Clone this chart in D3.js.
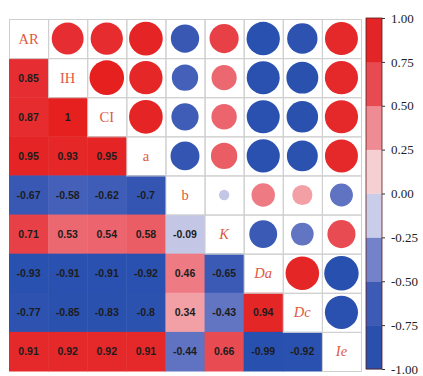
<!DOCTYPE html>
<html>
<head>
<meta charset="utf-8">
<script src="https://cdn.jsdelivr.net/npm/d3@7"></script>
<style>
  html, body { margin: 0; padding: 0; background: #fff; }
  svg { display: block; }
</style>
</head>
<body>
<svg id="chart" width="423" height="376"></svg>
<script>
// ---- Data ----
const variables = ["AR", "IH", "CI", "a", "b", "K", "Da", "Dc", "Ie"];
const italicVars = ["K", "Da", "Dc", "Ie"];
// lower-triangle correlations: row i holds r(variables[i], variables[j]) for j < i
const corrRows = [
  [],
  [0.85],
  [0.87, 1],
  [0.95, 0.93, 0.95],
  [-0.67, -0.58, -0.62, -0.7],
  [0.71, 0.53, 0.54, 0.58, -0.09],
  [-0.93, -0.91, -0.91, -0.92, 0.46, -0.65],
  [-0.77, -0.85, -0.83, -0.8, 0.34, -0.43, 0.94],
  [0.91, 0.92, 0.92, 0.91, -0.44, 0.66, -0.99, -0.92]
];
const tickValues = [1.00, 0.75, 0.50, 0.25, 0.00, -0.25, -0.50, -0.75, -1.00];
const colorStops = [-1, -0.75, -0.5, -0.25, 0, 0.25, 0.5, 0.75, 1];
const stopColors = ["#2850ae", "#2d52b0", "#4f66bc", "#929cd5", "#e0ddee", "#f5bcc1", "#ed6e77", "#e6383e", "#e5201f"];
const bandColors = ["#2a50ae", "#3d5ab4", "#7483c9", "#c9cde9", "#f6cfd2", "#ef8b93", "#e84a51", "#e42528"]; // from -1 upward

// ---- Setup ----
const svg = d3.select("#chart");
const x = d3.scaleBand().domain(variables).range([9, 361]);
const y = d3.scaleBand().domain(variables).range([19, 371]);
const color = d3.scaleLinear().domain(colorStops).range(stopColors).clamp(true);
const rScale = d3.scaleSqrt().domain([0, 1]).range([0, 17.3]);

const corr = (a, b) => {
  const i = variables.indexOf(a), j = variables.indexOf(b);
  if (i === j) return 1;
  return i > j ? corrRows[i][j] : corrRows[j][i];
};

const cells = [];
variables.forEach((rv, i) => variables.forEach((cv, j) => {
  cells.push({ row: rv, col: cv, i, j, v: corr(rv, cv) });
}));

const lower = cells.filter(d => d.i > d.j);
const upper = cells.filter(d => d.i < d.j);
const diag = cells.filter(d => d.i === d.j);

// lower triangle filled squares
svg.append("g").selectAll("rect").data(lower).join("rect")
  .attr("x", d => x(d.col)).attr("y", d => y(d.row))
  .attr("width", x.bandwidth() + 0.5).attr("height", y.bandwidth() + 0.5)
  .attr("fill", d => color(d.v));

svg.append("g").selectAll("text").data(lower).join("text")
  .attr("x", d => x(d.col) + x.bandwidth() / 2)
  .attr("y", d => y(d.row) + y.bandwidth() / 2)
  .attr("text-anchor", "middle").attr("dominant-baseline", "central")
  .attr("font-family", "Liberation Sans, Arial, sans-serif")
  .attr("font-weight", "bold").attr("font-size", 10.5)
  .attr("fill", "#1c1c1c")
  .text(d => String(d.v));

// grid for upper + diagonal
svg.append("g").selectAll("rect").data(upper.concat(diag)).join("rect")
  .attr("x", d => x(d.col) + 0.5).attr("y", d => y(d.row) + 0.5)
  .attr("width", x.bandwidth()).attr("height", y.bandwidth())
  .attr("fill", "none").attr("stroke", "#cfcfcf").attr("stroke-width", 1);

// circles
svg.append("g").selectAll("circle").data(upper).join("circle")
  .attr("cx", d => x(d.col) + x.bandwidth() / 2)
  .attr("cy", d => y(d.row) + y.bandwidth() / 2)
  .attr("r", d => rScale(Math.abs(d.v)))
  .attr("fill", d => color(d.v));

// diagonal labels
svg.append("g").selectAll("text").data(diag).join("text")
  .attr("x", d => x(d.col) + x.bandwidth() / 2)
  .attr("y", d => y(d.row) + y.bandwidth() / 2)
  .attr("text-anchor", "middle").attr("dominant-baseline", "central")
  .attr("font-family", "Liberation Serif, 'Times New Roman', serif")
  .attr("font-size", 14.5)
  .attr("font-style", d => italicVars.includes(d.row) ? "italic" : "normal")
  .attr("fill", "#de5a3e")
  .text(d => d.row);

// ---- Colorbar ----
const cbX = 366, cbW = 16;
const cy = d3.scaleLinear().domain([-1, 1]).range([369, 18]);
const bands = bandColors.map((c, k) => ({ lo: -1 + k * 0.25, hi: -1 + (k + 1) * 0.25, c }));
const cb = svg.append("g");
cb.selectAll("rect").data(bands).join("rect")
  .attr("x", cbX).attr("y", d => cy(d.hi))
  .attr("width", cbW).attr("height", d => cy(d.lo) - cy(d.hi) + 0.3)
  .attr("fill", d => d.c);
cb.append("rect").attr("x", cbX).attr("y", cy(1)).attr("width", cbW).attr("height", cy(-1) - cy(1))
  .attr("fill", "none").attr("stroke", "#5a1a1a").attr("stroke-width", 0.8);

const axis = d3.axisRight(cy).tickValues(tickValues).tickFormat(d3.format(".2f")).tickSize(3).tickPadding(6);
const ag = cb.append("g").attr("transform", `translate(${cbX + cbW},0)`).call(axis);
ag.select(".domain").remove();
ag.selectAll("line").attr("stroke", "#333");
ag.selectAll("text").attr("font-family", "Liberation Serif, 'Times New Roman', serif")
  .attr("font-size", 13).attr("fill", "#222")
  .text(d => d3.format(".2f")(d).replace("−", "-"));
</script>
</body>
</html>
